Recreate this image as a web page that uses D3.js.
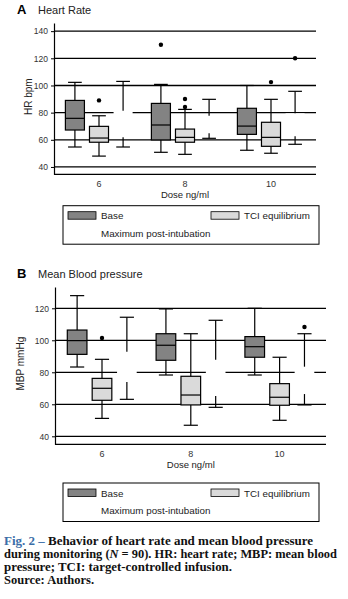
<!DOCTYPE html>
<html>
<head>
<meta charset="utf-8">
<style>
    body { margin: 0; background: #fff; }
    svg { display: block; font-family: 'Liberation Sans', Arial, sans-serif; }
</style>
</head>
<body>
<div id="chart"></div>
<script src="https://cdn.jsdelivr.net/npm/d3@7"></script>
<script>
const doses = ['6', '8', '10'];
const seriesNames = ['Base', 'TCI equilibrium', 'Maximum post-intubation'];

// each row: [lower whisker, Q1, median, Q3, upper whisker], one row per dose
const hrBase = [[54.7, 67.2, 75.8, 89, 102.3], [50.8, 59.9, 70.9, 86.8, 100.8], [52.3, 64, 70.1, 83.2, 100]];
const hrTci = [[48, 58.2, 61.3, 69.9, 77.7], [49.3, 58.2, 61.8, 67.9, 82.4], [50.1, 55.2, 61.8, 72.9, 89.8]];
const hrMax = [[54.7, 61.8, 72, 81.4, 103], [61.1, 64.8, 70, 77.7, 89.8], [56.7, 62.6, 70, 79.5, 95.7]];
const hrBaseOut = [[], [130], []];
const hrTciOut = [[89], [90, 84.1], [102.5]];
const hrMaxOut = [[], [], [120]];
const hrTicks = [40, 60, 80, 100, 120, 140];

const mbpBase = [[83.3, 91.2, 99.8, 106.4, 127.9], [78.3, 87.5, 96.9, 104.1, 119.6], [78.3, 89.4, 96, 102.3, 120]];
const mbpTci = [[51.2, 62.5, 70, 76.2, 88.1], [46.9, 59.6, 65.8, 77.5, 104.1], [50, 59.4, 64.4, 72.9, 89.4]];
const mbpMax = [[63.1, 73.9, 84, 92.9, 114.4], [58.1, 65.2, 78, 87.9, 112.5], [59.6, 66.4, 76, 83.5, 104.1]];
const mbpBaseOut = [[], [], []];
const mbpTciOut = [[101.4], [], []];
const mbpMaxOut = [[], [], [108.3]];
const mbpTicks = [40, 60, 80, 100, 120];

const fills = ['#838383', '#dadada', '#ffffff'];

const svg = d3.select('#chart')
    .append('svg')
    .attr('width', 348)
    .attr('height', 599);

function drawPanel(cfg) {
    const g = svg.append('g');
    const f = cfg.frame;

    const x = d3.scaleBand().domain(doses).range(cfg.xRange);
    const xs = d3.scaleBand().domain(d3.range(3)).range([0, x.bandwidth()])
        .paddingInner(0.21).paddingOuter(0.39);
    const y = d3.scaleLinear().domain(cfg.domain).range([f.bottom, f.top]);
    const bw = xs.bandwidth();
    const capW = bw * 0.72;

    // panel title
    g.append('text').attr('x', 17).attr('y', cfg.titleY)
        .attr('font-size', 13).attr('font-weight', 'bold').text(cfg.letter);
    g.append('text').attr('x', 38).attr('y', cfg.titleY)
        .attr('font-size', 11).attr('fill', '#222').text(cfg.title);

    // gridlines
    g.append('g').selectAll('line')
        .data(cfg.ticks)
        .join('line')
        .attr('x1', f.left).attr('x2', f.right)
        .attr('y1', (d) => y(d)).attr('y2', (d) => y(d))
        .attr('stroke', '#000').attr('stroke-width', 1.3);

    // y axis
    const yAxis = d3.axisLeft(y).tickValues(cfg.ticks).tickSize(3).tickSizeOuter(0).tickPadding(3);
    const ya = g.append('g').attr('transform', `translate(${f.left},0)`).call(yAxis);
    ya.select('.domain').attr('stroke-width', 1.2);
    ya.selectAll('.tick line').attr('stroke-width', 1);
    ya.selectAll('text').attr('font-size', 8.5).attr('fill', '#333');

    // x axis
    g.append('line')
        .attr('x1', f.left).attr('x2', f.right)
        .attr('y1', f.bottom).attr('y2', f.bottom)
        .attr('stroke', '#000').attr('stroke-width', 1.2);
    const xa = g.append('g').attr('transform', `translate(0,${f.bottom})`)
        .call(d3.axisBottom(x).tickSize(0).tickPadding(6));
    xa.select('.domain').remove();
    xa.selectAll('text').attr('font-size', 9).attr('fill', '#333');

    g.append('text')
        .attr('x', (cfg.xRange[0] + cfg.xRange[1]) / 2)
        .attr('y', f.bottom + 23.5)
        .attr('text-anchor', 'middle')
        .attr('font-size', 9.5).attr('fill', '#222')
        .text('Dose ng/ml');

    g.append('text')
        .attr('transform', `translate(${cfg.yLabelX},${(f.top + f.bottom) / 2 - 2}) rotate(-90)`)
        .attr('text-anchor', 'middle')
        .attr('font-size', 10).attr('fill', '#222')
        .text(cfg.yLabel);

    // boxes
    cfg.stats.forEach((rows, s) => {
        const sg = g.append('g');
        const items = rows.map((r, i) => ({
            cx: x(doses[i]) + xs(s) + bw / 2,
            lo: r[0], q1: r[1], med: r[2], q3: r[3], hi: r[4],
            out: cfg.outliers[s][i],
        }));

        sg.selectAll('rect')
            .data(items)
            .join('rect')
            .attr('x', (d) => d.cx - bw / 2)
            .attr('y', (d) => y(d.q3))
            .attr('width', bw)
            .attr('height', (d) => y(d.q1) - y(d.q3))
            .attr('fill', fills[s])
            .attr('stroke', s < 2 ? '#000' : 'none')
            .attr('stroke-width', 1.2);

        if (s < 2) {
            sg.selectAll('line.med')
                .data(items)
                .join('line')
                .attr('class', 'med')
                .attr('x1', (d) => d.cx - bw / 2).attr('x2', (d) => d.cx + bw / 2)
                .attr('y1', (d) => y(d.med)).attr('y2', (d) => y(d.med))
                .attr('stroke', '#000').attr('stroke-width', 1.2);
        }

        const whisk = [];
        items.forEach((d) => {
            whisk.push({ cx: d.cx, a: d.q3, b: d.hi });
            whisk.push({ cx: d.cx, a: d.q1, b: d.lo });
        });

        sg.selectAll('line.wh')
            .data(whisk)
            .join('line')
            .attr('class', 'wh')
            .attr('x1', (d) => d.cx).attr('x2', (d) => d.cx)
            .attr('y1', (d) => y(d.a)).attr('y2', (d) => y(d.b))
            .attr('stroke', '#000').attr('stroke-width', 1.2);

        sg.selectAll('line.cap')
            .data(whisk)
            .join('line')
            .attr('class', 'cap')
            .attr('x1', (d) => d.cx - capW / 2).attr('x2', (d) => d.cx + capW / 2)
            .attr('y1', (d) => y(d.b)).attr('y2', (d) => y(d.b))
            .attr('stroke', '#000').attr('stroke-width', 1.2);

        sg.selectAll('circle')
            .data(items.flatMap((d) => d.out.map((v) => ({ cx: d.cx, v }))))
            .join('circle')
            .attr('cx', (d) => d.cx)
            .attr('cy', (d) => y(d.v))
            .attr('r', 2.2)
            .attr('fill', '#000');
    });

    // legend
    const lg = g.append('g').attr('transform', `translate(63,${cfg.legendTop})`);
    lg.append('rect')
        .attr('width', 256).attr('height', 38.5)
        .attr('fill', 'none').attr('stroke', '#000').attr('stroke-width', 1);
    const legendPos = [[5, 10], [148, 10], [5, 27.5]];
    seriesNames.forEach((name, s) => {
        const [lx, ly] = legendPos[s];
        if (s < 2) {
            lg.append('rect')
                .attr('x', lx).attr('y', ly - 4)
                .attr('width', 28).attr('height', 7.5)
                .attr('fill', fills[s]).attr('stroke', '#000').attr('stroke-width', 0.8);
        }
        lg.append('text')
            .attr('x', lx + 33).attr('y', ly + 3.5)
            .attr('font-size', 9.8).attr('fill', '#222')
            .text(name);
    });
}

drawPanel({
    letter: 'A', title: 'Heart Rate', titleY: 13.8,
    yLabel: 'HR bpm', yLabelX: 31.5,
    stats: [hrBase, hrTci, hrMax],
    outliers: [hrBaseOut, hrTciOut, hrMaxOut],
    ticks: hrTicks, domain: [34.6, 146],
    frame: { left: 54, right: 316, top: 23, bottom: 174.3 },
    xRange: [56, 314],
    legendTop: 205.7,
});

drawPanel({
    letter: 'B', title: 'Mean Blood pressure', titleY: 277.5,
    yLabel: 'MBP mmHg', yLabelX: 24,
    stats: [mbpBase, mbpTci, mbpMax],
    outliers: [mbpBaseOut, mbpTciOut, mbpMaxOut],
    ticks: mbpTicks, domain: [35, 133.3],
    frame: { left: 55, right: 326, top: 287, bottom: 444.3 },
    xRange: [57.6, 324],
    legendTop: 483,
});

// caption
const cap = svg.append('g')
    .attr('font-family', "'Liberation Serif', 'DejaVu Serif', serif")
    .attr('font-weight', 'bold')
    .attr('font-size', 12.5)
    .attr('fill', '#111');

const l1 = cap.append('text').attr('x', 4).attr('y', 545).attr('textLength', 309).attr('lengthAdjust', 'spacingAndGlyphs');
l1.append('tspan').attr('fill', '#3b6ea8').text('Fig. 2 – ');
l1.append('tspan').text('Behavior of heart rate and mean blood pressure');

const l2 = cap.append('text').attr('x', 4).attr('y', 558).attr('textLength', 333).attr('lengthAdjust', 'spacingAndGlyphs');
l2.append('tspan').text('during monitoring (');
l2.append('tspan').attr('font-style', 'italic').text('N');
l2.append('tspan').text(' = 90). HR: heart rate; MBP: mean blood');

cap.append('text').attr('x', 4).attr('y', 571).attr('textLength', 228).attr('lengthAdjust', 'spacingAndGlyphs')
    .text('pressure; TCI: target-controlled infusion.');
cap.append('text').attr('x', 4).attr('y', 584)
    .text('Source: Authors.');
</script>
</body>
</html>
